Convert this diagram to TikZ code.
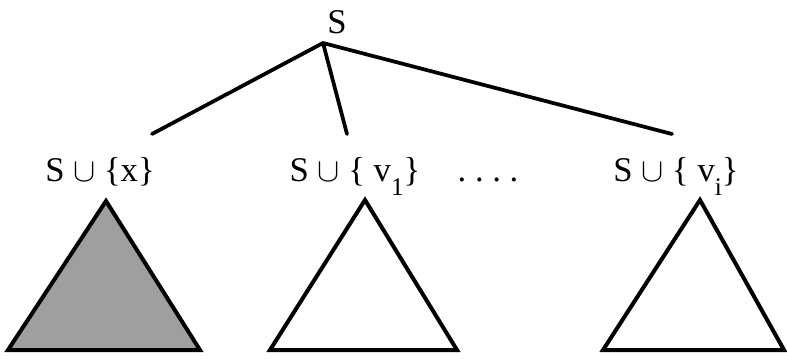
\documentclass[tikz,border=0pt]{standalone}
\usepackage{fontspec}
\setmainfont{Liberation Serif}
\newcommand{\sbs}[1]{\raisebox{-0.42em}{\fontsize{19}{19}\selectfont #1}}
\begin{document}
\begin{tikzpicture}[x=0.75pt,y=-0.75pt,
  lbl/.style={inner sep=0pt,font=\fontsize{26}{29}\selectfont},
  edge/.style={line width=2.8pt,line cap=round},
  tri/.style={line width=3pt,line join=miter}]
\useasboundingbox (0,0) rectangle (787,358);
\node[lbl,anchor=base] (s) at (337,33) {S};
\coordinate (top) at (323,43);
\node[lbl,anchor=base] (a) at (100,181) {S $\cup$ \{x\}};
\node[lbl,anchor=base] (b) at (355,181) {S $\cup$ \{ v\sbs{1}\}};
\node[lbl,anchor=base] (d) at (488,181) {.\hspace{0.25em}.\hspace{0.25em}.\hspace{0.25em}.};
\node[lbl,anchor=base] (c) at (676,181) {S $\cup$ \{ v\sbs{i}\}};
\coordinate (ea) at (152,134);
\coordinate (eb) at (347,134);
\coordinate (ec) at (672,134);
\draw[edge] (top) -- (ea);
\draw[edge] (top) -- (eb);
\draw[edge] (top) -- (ec);
\coordinate (t1) at (106,201); \coordinate (l1) at (8,350); \coordinate (r1) at (200,350);
\coordinate (t2) at (365,200); \coordinate (l2) at (270,350); \coordinate (r2) at (457,350);
\coordinate (t3) at (700,200); \coordinate (l3) at (603,350); \coordinate (r3) at (784,350);
\draw[tri,fill=gray!75] (t1) -- (l1) -- (r1) -- cycle;
\draw[tri] (t2) -- (l2) -- (r2) -- cycle;
\draw[tri] (t3) -- (l3) -- (r3) -- cycle;
\end{tikzpicture}
\end{document}
